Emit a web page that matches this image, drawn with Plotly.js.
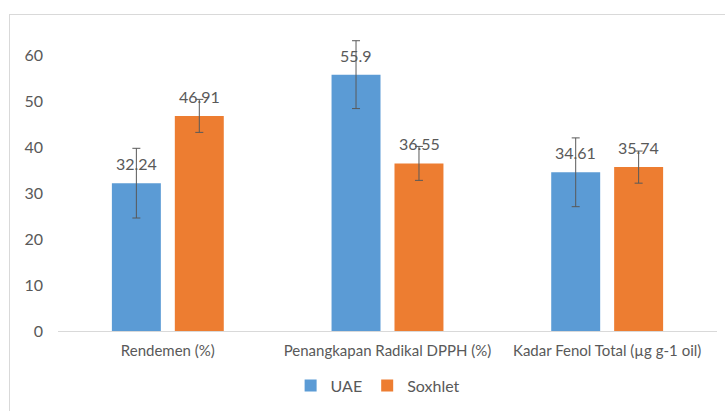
<!DOCTYPE html>
<html>
<head>
<meta charset="utf-8">
<script src="https://cdn.plot.ly/plotly-3.0.1.min.js"></script>
<style>
html,body{margin:0;padding:0;background:#fff;}
#wrap{position:relative;width:725px;height:411px;overflow:hidden;}
#chart{width:725px;height:411px;}
#frame{position:absolute;left:9px;top:14px;width:800px;height:500px;border-left:1px solid #D9D9D9;border-top:1px solid #D9D9D9;pointer-events:none;}
</style>
</head>
<body>
<div id="wrap"><div id="chart"></div><div id="frame"></div></div>
<script>
const categories = ["Rendemen (%)", "Penangkapan Radikal DPPH (%)", "Kadar Fenol Total (µg g-1 oil)"];
const uaeValues = [32.24, 55.9, 34.61];
const soxhletValues = [46.91, 36.55, 35.74];
const uaeErrors = [7.6, 7.4, 7.5];
const soxhletErrors = [3.6, 3.7, 3.5];
const yTicks = [0, 10, 20, 30, 40, 50, 60];

const FONT = "Lato, 'Open Sans', sans-serif";
const TXT = "#595959";

const errStyle = {type: "data", visible: true, color: "#595959", thickness: 1, width: 4};

const traces = [
  {type: "bar", name: "UAE", x: categories, y: uaeValues,
   marker: {color: "#5B9BD5"},
   error_y: Object.assign({array: uaeErrors}, errStyle), hoverinfo: "none"},
  {type: "bar", name: "Soxhlet", x: categories, y: soxhletValues,
   marker: {color: "#ED7D31"},
   error_y: Object.assign({array: soxhletErrors}, errStyle), hoverinfo: "none"}
];

const annotations = [];
const series = [[uaeValues, -31.5], [soxhletValues, 31.5]];
series.forEach(([vals, dx]) => {
  vals.forEach((v, i) => {
    annotations.push({x: categories[i], y: v, xref: "x", yref: "y",
      text: String(v), showarrow: false, xshift: dx, yshift: 8,
      yanchor: "bottom", font: {family: FONT, size: 16, color: TXT}});
  });
});

const layout = {
  width: 725, height: 411,
  margin: {l: 58, r: 8, t: 10, b: 76},
  paper_bgcolor: "#ffffff", plot_bgcolor: "#ffffff",
  barmode: "group", bargap: 0.427, bargroupgap: 0.222,
  font: {family: FONT, color: TXT},
  xaxis: {showline: true, linecolor: "#D9D9D9", linewidth: 1, ticks: "",
          tickfont: {family: FONT, size: 15, color: TXT}, ticklabelstandoff: 6,
          showgrid: false, zeroline: false, fixedrange: true},
  yaxis: {range: [0, 70], tickvals: yTicks, ticktext: yTicks.map(String),
          showgrid: false, zeroline: false, showline: false, ticks: "",
          tickfont: {family: FONT, size: 16, color: TXT}, ticklabelstandoff: 14,
          fixedrange: true},
  showlegend: true,
  legend: {orientation: "h", x: 0.485, xanchor: "center", y: -0.17, yanchor: "middle",
           font: {family: FONT, size: 16, color: TXT}, itemclick: false, itemwidth: 30},
  annotations: annotations
};

Plotly.newPlot("chart", traces, layout, {staticPlot: true, displayModeBar: false});
</script>
</body>
</html>
